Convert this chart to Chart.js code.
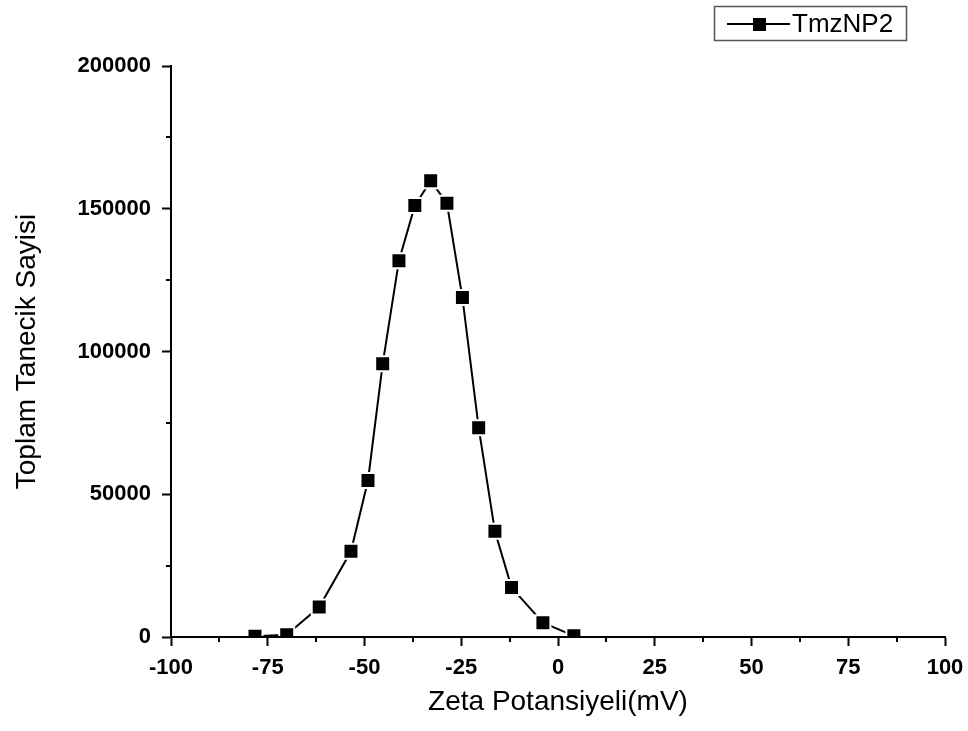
<!DOCTYPE html>
<html>
<head>
<meta charset="utf-8">
<script src="https://cdn.jsdelivr.net/npm/chart.js@4/dist/chart.umd.min.js"></script>
<style>
  html, body { margin: 0; padding: 0; background: #fff; }
  #wrap { width: 968px; height: 731px; position: relative; }
</style>
</head>
<body>
<div id="wrap"><canvas id="zeta_chart" width="968" height="731"></canvas></div>
<script>
// values
var zeta = [-78.3, -70.1, -61.7, -53.5, -49.1, -45.3, -41.1, -37.0, -32.9, -28.7, -24.7, -20.5, -16.3, -12.0, -3.9, 4.1];
var counts = [300, 800, 10500, 30000, 54800, 95700, 131800, 151100, 159800, 151900, 118900, 73300, 37000, 17300, 5000, 400];
var seriesName = "TmzNP2";
var xTitle = "Zeta Potansiyeli(mV)";
var yTitle = "Toplam Tanecik Sayisi";
var xMinorTicks = [-87.5, -62.5, -37.5, -12.5, 12.5, 37.5, 62.5, 87.5];
var yMinorTicks = [25000, 75000, 125000, 175000];

var fontName = "'Liberation Sans', Arial, sans-serif";

var points = [];
for (var i = 0; i < zeta.length; i++) {
    points.push({x: zeta[i], y: counts[i]});
}

//Minor ticks, Origin style (shorter than the major ones)
const minorTicks = {
    id: 'minorTicks',
    afterDraw(chart) {
        var ctx = chart.ctx;
        var xs = chart.scales.x, ys = chart.scales.y;
        var area = chart.chartArea;
        ctx.save();
        ctx.strokeStyle = '#000';
        ctx.lineWidth = 2;
        ctx.beginPath();
        xMinorTicks.forEach(function(v) {
            var px = Math.round(xs.getPixelForValue(v));
            ctx.moveTo(px, area.bottom);
            ctx.lineTo(px, area.bottom + 5);
        });
        yMinorTicks.forEach(function(v) {
            var py = Math.round(ys.getPixelForValue(v));
            ctx.moveTo(area.left, py);
            ctx.lineTo(area.left - 5, py);
        });
        ctx.stroke();
        ctx.restore();
    }
};

//Boxed legend top right: line - square - line, then name
const boxLegend = {
    id: 'boxLegend',
    afterDraw(chart) {
        var ctx = chart.ctx;
        ctx.save();
        ctx.strokeStyle = '#555';
        ctx.lineWidth = 1.5;
        ctx.strokeRect(714.5, 6.5, 192, 34);
        ctx.strokeStyle = '#000';
        ctx.lineWidth = 2;
        ctx.beginPath();
        ctx.moveTo(727, 24);
        ctx.lineTo(790, 24);
        ctx.stroke();
        ctx.fillStyle = '#000';
        ctx.fillRect(753, 18, 13, 13);
        ctx.font = "26px " + fontName;
        ctx.textBaseline = 'middle';
        ctx.fillText(seriesName, 792, 25);
        ctx.restore();
    }
};

const config = {
    type: 'scatter',
    data: {
        datasets: [{
            label: seriesName,
            data: points,
            showLine: true,
            borderColor: '#000',
            borderWidth: 2,
            backgroundColor: '#000',
            pointStyle: 'rect',
            pointRadius: 10.6,
            pointHoverRadius: 10.6,
            pointBorderColor: '#fff',
            pointBorderWidth: 2,
            tension: 0
        }]
    },
    options: {
        responsive: false,
        animation: false,
        events: [],
        layout: { padding: { top: 66, right: 23, left: 0, bottom: 0 } },
        plugins: {
            legend: { display: false },
            tooltip: { enabled: false }
        },
        scales: {
            x: {
                type: 'linear',
                min: -100, max: 100,
                afterFit: function(scale) {
                    scale.height = 94;
                    scale.paddingLeft = 0;
                    scale.paddingRight = 0;
                },
                ticks: {
                    stepSize: 25,
                    color: '#000',
                    padding: 9,
                    callback: function(v) { return String(v); },
                    font: { family: fontName, size: 22, weight: 'bold' }
                },
                grid: {
                    drawOnChartArea: false,
                    drawTicks: true,
                    tickLength: 9,
                    tickWidth: 2,
                    tickColor: '#000'
                },
                border: { display: true, color: '#000', width: 2, z: 1 },
                title: {
                    display: true,
                    text: xTitle,
                    color: '#000',
                    padding: { top: 0, bottom: 12 },
                    font: { family: fontName, size: 28 }
                }
            },
            y: {
                type: 'linear',
                min: 0, max: 200000,
                afterFit: function(scale) {
                    scale.width = 171;
                    scale.paddingTop = 0;
                    scale.paddingBottom = 0;
                },
                ticks: {
                    stepSize: 50000,
                    color: '#000',
                    padding: 11,
                    callback: function(v) { return String(v); },
                    font: { family: fontName, size: 22, weight: 'bold' }
                },
                grid: {
                    drawOnChartArea: false,
                    drawTicks: true,
                    tickLength: 9,
                    tickWidth: 2,
                    tickColor: '#000'
                },
                border: { display: true, color: '#000', width: 2, z: 1 },
                title: {
                    display: true,
                    text: yTitle,
                    color: '#000',
                    padding: { top: 10, bottom: 0 },
                    font: { family: fontName, size: 28 }
                }
            }
        }
    },
    plugins: [minorTicks, boxLegend]
};

var chart = new Chart(document.getElementById('zeta_chart'), config);
</script>
</body>
</html>
